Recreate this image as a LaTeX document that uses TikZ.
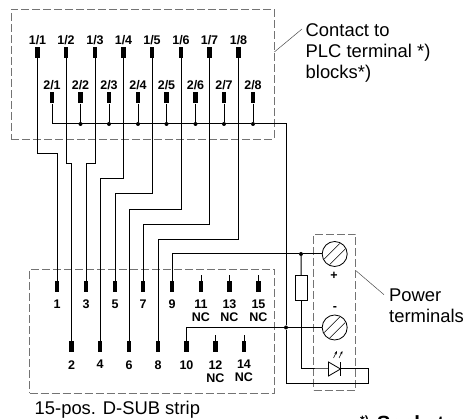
\documentclass[tikz,border=0pt]{standalone}
\usepackage{fontspec}
\setmainfont{Liberation Sans}
\usetikzlibrary{arrows.meta}
\tikzset{
  pin/.style={rectangle, fill=black, inner sep=0pt, minimum width=4.6pt, minimum height=11pt},
  pintop/.style={pin, label={[pinlabel, label distance=2pt]above:#1}},
  pinlow/.style={pin, label={[pinlabel, label distance=7.5pt]below:#1}},
  pinlabel/.style={inner sep=0pt, align=center, font=\bfseries\fontsize{12.5}{13}\selectfont},
  dot/.style={circle, fill=black, inner sep=0pt, minimum size=4pt},
  screw/.style={circle, draw, line width=0.8pt, inner sep=0pt, minimum size=25pt},
  resistor/.style={rectangle, draw, line width=0.8pt, inner sep=0pt, minimum width=12.5pt, minimum height=24.5pt},
  wire/.style={line width=1pt},
  frame/.style={draw=black!55, line width=0.7pt, dash pattern=on 8pt off 3pt},
  leader/.style={draw=black!70, line width=0.5pt},
  caption/.style={inner sep=0pt, align=left, font=\fontsize{18.4}{21}\selectfont}
}
\begin{document}
\begin{tikzpicture}[x=1pt, y=-1pt]
   \useasboundingbox (0,0) rectangle (467,419);
   \clip (0,0) rectangle (467,419);

   % frames
   \node[frame, inner sep=0pt, minimum width=263pt, minimum height=130pt] (plc) at (142.5,74) {};
   \node[frame, inner sep=0pt, minimum width=245pt, minimum height=124pt] (sub) at (152,331) {};
   \node[frame, inner sep=0pt, minimum width=42pt, minimum height=156pt] (pwr) at (334.6,312) {};

   % contact pins
   \node[pintop=1/1] (a1) at (37.5,52.5) {};
   \node[pintop=1/2] (a2) at (66,52.5) {};
   \node[pintop=1/3] (a3) at (95,52.5) {};
   \node[pintop=1/4] (a4) at (123.5,52.5) {};
   \node[pintop=1/5] (a5) at (152,52.5) {};
   \node[pintop=1/6] (a6) at (181,52.5) {};
   \node[pintop=1/7] (a7) at (209.5,52.5) {};
   \node[pintop=1/8] (a8) at (238.5,52.5) {};
   \node[pintop=2/1] (c1) at (52,98) {};
   \node[pintop=2/2] (c2) at (80.5,98) {};
   \node[pintop=2/3] (c3) at (109,98) {};
   \node[pintop=2/4] (c4) at (138,98) {};
   \node[pintop=2/5] (c5) at (166.5,98) {};
   \node[pintop=2/6] (c6) at (195.5,98) {};
   \node[pintop=2/7] (c7) at (224,98) {};
   \node[pintop=2/8] (c8) at (253,98) {};

   % bus dots
   \node[dot] (d2) at (80.5,124) {};
   \node[dot] (d3) at (109,124) {};
   \node[dot] (d4) at (138,124) {};
   \node[dot] (d5) at (166.5,124) {};
   \node[dot] (d6) at (195.5,124) {};
   \node[dot] (d7) at (224,124) {};
   \node[dot] (d8) at (253,124) {};

   % strip pins
   \node[pinlow=1] (s1) at (57,286.5) {};
   \node[pinlow=3] (s3) at (86,286.5) {};
   \node[pinlow=5] (s5) at (115,286.5) {};
   \node[pinlow=7] (s7) at (143,286.5) {};
   \node[pinlow=9] (s9) at (172,286.5) {};
   \node[pinlow={11\\NC}] (s11) at (201,286.5) {};
   \node[pinlow={13\\NC}] (s13) at (229.5,286.5) {};
   \node[pinlow={15\\NC}] (s15) at (258.5,286.5) {};
   \node[pinlow=2] (s2) at (71.5,347) {};
   \node[pinlow=4] (s4) at (100,347) {};
   \node[pinlow=6] (s6) at (129,347) {};
   \node[pinlow=8] (s8) at (158,347) {};
   \node[pinlow=10] (s10) at (186.5,347) {};
   \node[pinlow={12\\NC}] (s12) at (215.5,347) {};
   \node[pinlow={14\\NC}] (s14) at (244,347) {};

   % power side
   \node[screw] (sa) at (334.7,254) {};
   \node[screw] (sb) at (334.7,327.5) {};
   \node[dot] (ja) at (301,254) {};
   \node[dot] (jb) at (286,327.5) {};
   \node[resistor] (res) at (301.2,288) {};
   \node[pinlabel] (plus) at (334,276) {+};
   \node[pinlabel] (minus) at (335,309) {-};
   \coordinate (la) at (328.5,369);
   \coordinate (lb) at (340.5,369);

   % wires
   \draw[wire] (a1.south) -- ++(0,95.5) -| (s1.north);
   \draw[wire] (a2.south) -- ++(0,105) -| (s2.north);
   \draw[wire] (a3.south) -- ++(0,105) -| (s3.north);
   \draw[wire] (a4.south) -- ++(0,120) -| (s4.north);
   \draw[wire] (a5.south) -- ++(0,135) -| (s5.north);
   \draw[wire] (a6.south) -- ++(0,151) -| (s6.north);
   \draw[wire] (a7.south) -- ++(0,166) -| (s7.north);
   \draw[wire] (a8.south) -- ++(0,181) -| (s8.north);
   \draw[wire] (c1.south) |- (d8) -| (jb);
   \draw[wire] (c2.south) to (d2);
   \draw[wire] (c3.south) to (d3);
   \draw[wire] (c4.south) to (d4);
   \draw[wire] (c5.south) to (d5);
   \draw[wire] (c6.south) to (d6);
   \draw[wire] (c7.south) to (d7);
   \draw[wire] (c8.south) to (d8);
   \draw[wire] (s9.north) |- (ja) to (sa.west);
   \draw[wire] (s10.north) |- (jb) to (sb.west);
   \draw[wire] (ja) to (res.north);
   \draw[wire] (res.south) |- (la) to (lb);
   \draw[wire] (lb) -- ++(27.5,0) -- ++(0,15) -| (jb);

   % not connected
   \draw[line width=0.5pt] (s11.north) -- ++(0,-6);
   \draw[line width=0.5pt] (s13.north) -- ++(0,-6);
   \draw[line width=0.5pt] (s15.north) -- ++(0,-6);
   \draw[line width=0.5pt] (s12.north) -- ++(0,-6);
   \draw[line width=0.5pt] (s14.north) -- ++(0,-6);

   % screw slots
   \draw[line width=0.6pt] ([shift={(-10.5,5)}]sa.center) -- ([shift={(5,-10.5)}]sa.center);
   \draw[line width=0.6pt] ([shift={(-5,10.5)}]sa.center) -- ([shift={(10.5,-5)}]sa.center);
   \draw[line width=0.6pt] ([shift={(-10.5,5)}]sb.center) -- ([shift={(5,-10.5)}]sb.center);
   \draw[line width=0.6pt] ([shift={(-5,10.5)}]sb.center) -- ([shift={(10.5,-5)}]sb.center);

   % led
   \fill[white] (la) -- ++(0,-7) -- (lb) -- ++(-12,7) -- cycle;
   \draw[line width=0.8pt] (la) -- ++(0,-7) -- (lb) -- ++(-12,7) -- cycle;
   \draw[line width=0.9pt] ([yshift=-7pt]lb) -- ([yshift=7pt]lb);
   \draw[line width=0.5pt, -{Stealth[length=3.5pt,width=2.5pt]}] ([shift={(5,-11)}]la) -- ++(3.5,-7);
   \draw[line width=0.5pt, -{Stealth[length=3.5pt,width=2.5pt]}] ([shift={(10.5,-11)}]la) -- ++(3.5,-7);

   % captions
   \node[caption, anchor=north west] (contact) at (305.5,23.5) {Contact to\\PLC terminal *)\\blocks*)};
   \node[caption, anchor=north west] (power) at (389,288.5) {Power\\terminals};
   \node[caption, anchor=base west] (strip) at (34.5,415) {15-pos. D-SUB strip};
   \node[inner sep=0pt, anchor=base west, font=\bfseries\fontsize{20.5}{22}\selectfont] (note) at (360,431) {\raisebox{6pt}{\fontsize{12}{13}\selectfont *)}\kern8pt Sockets};
   \draw[leader] (plc.east |- 0,52) -- ([xshift=-3.5pt]contact.west |- 0,29);
   \draw[leader] (pwr.east |- 0,270.7) -- ([xshift=-5pt]power.west |- 0,294.7);
 \end{tikzpicture}
\end{document}
